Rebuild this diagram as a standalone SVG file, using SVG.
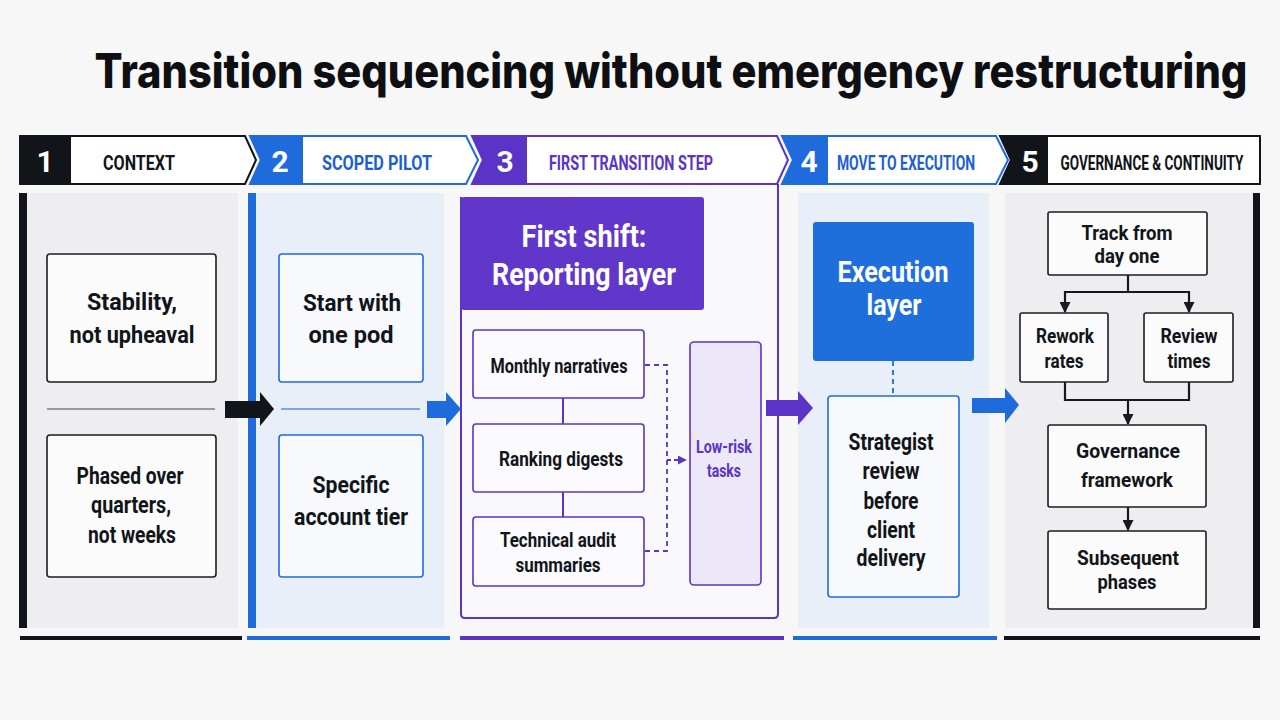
<svg xmlns="http://www.w3.org/2000/svg" width="1280" height="720" viewBox="0 0 1280 720">
<defs>
<style>
.t{font-family:Roboto,"Liberation Sans",sans-serif;font-weight:700;text-anchor:middle}
.nd{fill:#111418;font-size:24px}
.sm{fill:#111418;font-size:21px}
.hd{font-size:20px}
.num{fill:#fff;font-size:30px}
.box{fill:#fbfbfb;stroke:#1b1e22;stroke-width:1.6}
.bbox{fill:#f7f9fd;stroke:#1f6bdc;stroke-width:1.6}
.pbox{fill:#fbfaff;stroke:#5a34c6;stroke-width:1.6}
.kline{fill:none;stroke:#16191d;stroke-width:2.2}
</style>
<marker id="ak" viewBox="0 0 10 10" refX="9" refY="5" markerWidth="5" markerHeight="5" orient="auto"><path d="M0,0 L10,5 L0,10 z" fill="#16191d"/></marker>
<marker id="ap" viewBox="0 0 10 10" refX="9" refY="5" markerWidth="5" markerHeight="5" orient="auto"><path d="M0,0 L10,5 L0,10 z" fill="#5a34c6"/></marker>
</defs>
<rect width="1280" height="720" fill="#f7f7f8"/>
<g transform="translate(671,88) scale(0.8,1)">
<text x="0" y="0" font-family="Inter,Roboto,sans-serif" font-weight="800" font-size="48" fill="#0d0f12" text-anchor="middle" textLength="1441" lengthAdjust="spacingAndGlyphs">Transition sequencing without emergency restructuring</text>
</g>

<g id="phase1">
<rect x="19" y="193" width="219" height="435" fill="#eeeef0"/>
<rect x="19" y="193" width="8" height="435" fill="#111418"/>
<polygon points="20,136 245,136 256,160 245,184 20,184" fill="#fff" stroke="#111418" stroke-width="2"/>
<rect x="20" y="136" width="51" height="48" fill="#111418"/>
<text class="t num" x="45" y="172">1</text>
<g transform="translate(139,170) scale(0.72,1)"><text class="t hd" x="0" y="0" fill="#111418" textLength="100" lengthAdjust="spacingAndGlyphs">CONTEXT</text></g>
<rect x="20" y="636" width="222" height="4" fill="#111418"/>
<line x1="47" y1="409" x2="215" y2="409" stroke="#9a9a9e" stroke-width="2"/>
</g>
<g id="n-stability">
<rect class="box" x="47" y="254" width="169" height="128" rx="3"/>
<text class="t nd" x="132" y="310" textLength="90" lengthAdjust="spacingAndGlyphs">Stability,</text>
<text class="t nd" x="132" y="343" textLength="125" lengthAdjust="spacingAndGlyphs">not upheaval</text>
</g>
<g id="n-phased">
<rect class="box" x="47" y="435" width="169" height="142" rx="3"/>
<text class="t nd" x="130" y="484" textLength="107" lengthAdjust="spacingAndGlyphs">Phased over</text>
<text class="t nd" x="131" y="513" textLength="80" lengthAdjust="spacingAndGlyphs">quarters,</text>
<text class="t nd" x="132" y="543" textLength="88" lengthAdjust="spacingAndGlyphs">not weeks</text>
</g>

<g id="phase2">
<rect x="248" y="193" width="196" height="435" fill="#e9eff9"/>
<rect x="248" y="193" width="8" height="435" fill="#1f6bdc"/>
<polygon points="250,136 466,136 478,160 466,184 250,184 261,160" fill="#fff" stroke="#1f6bdc" stroke-width="2"/>
<polygon points="250,136 303,136 303,184 250,184 261,160" fill="#1f6bdc"/>
<text class="t num" x="280" y="172">2</text>
<g transform="translate(377,170) scale(0.72,1)"><text class="t hd" x="0" y="0" fill="#1d5fd3" textLength="153" lengthAdjust="spacingAndGlyphs">SCOPED PILOT</text></g>
<rect x="247" y="636" width="203" height="4" fill="#1f6bdc"/>
<line x1="281" y1="409" x2="420" y2="409" stroke="#7fa6e6" stroke-width="2"/>
</g>
<g id="n-startpod">
<rect class="bbox" x="279" y="254" width="144" height="128" rx="3"/>
<text class="t nd" x="352" y="311" textLength="98" lengthAdjust="spacingAndGlyphs">Start with</text>
<text class="t nd" x="351" y="343" textLength="85" lengthAdjust="spacingAndGlyphs">one pod</text>
</g>
<g id="n-specific">
<rect class="bbox" x="279" y="435" width="144" height="142" rx="3"/>
<text class="t nd" x="351" y="493" textLength="77" lengthAdjust="spacingAndGlyphs">Specific</text>
<text class="t nd" x="351" y="525" textLength="114" lengthAdjust="spacingAndGlyphs">account tier</text>
</g>

<g id="phase3">
<path d="M778,184 V614 Q778,618 774,618 H465 Q461,618 461,614 V197" fill="#f9f8fd" stroke="#5a34c6" stroke-width="2"/>
<polygon points="472,136 777,136 788,160 777,184 472,184 483,160" fill="#fff" stroke="#5a34c6" stroke-width="2"/>
<polygon points="472,136 527,136 527,184 472,184 483,160" fill="#5a34c6"/>
<text class="t num" x="505" y="172">3</text>
<g transform="translate(631,170) scale(0.72,1)"><text class="t hd" x="0" y="0" fill="#5a34c6" textLength="228" lengthAdjust="spacingAndGlyphs">FIRST TRANSITION STEP</text></g>
<rect x="460" y="636" width="324" height="4" fill="#5a34c6"/>
</g>
<g id="n-firstshift">
<rect x="461" y="197" width="243" height="113" rx="3" fill="#6137cb"/>
<text class="t" x="584" y="247" fill="#fff" font-size="32" textLength="125" lengthAdjust="spacingAndGlyphs">First shift:</text>
<text class="t" x="584" y="285" fill="#fff" font-size="32" textLength="184" lengthAdjust="spacingAndGlyphs">Reporting layer</text>
</g>
<g id="n-monthly">
<rect class="pbox" x="473" y="330" width="171" height="68" rx="3"/>
<text class="t sm" x="559" y="373" textLength="137" lengthAdjust="spacingAndGlyphs">Monthly narratives</text>
</g>
<g id="n-ranking">
<rect class="pbox" x="473" y="424" width="171" height="68" rx="3"/>
<text class="t sm" x="561" y="466" textLength="124" lengthAdjust="spacingAndGlyphs">Ranking digests</text>
</g>
<g id="n-technical">
<rect class="pbox" x="473" y="517" width="171" height="69" rx="3"/>
<text class="t sm" x="558" y="547" textLength="116" lengthAdjust="spacingAndGlyphs">Technical audit</text>
<text class="t sm" x="558" y="572" textLength="85" lengthAdjust="spacingAndGlyphs">summaries</text>
</g>
<g id="n-lowrisk">
<rect x="690" y="342" width="71" height="243" rx="4" fill="#ece8f8" stroke="#5a34c6" stroke-width="1.6"/>
<text class="t" x="724" y="453" fill="#5a34c6" font-size="19" textLength="56" lengthAdjust="spacingAndGlyphs">Low-risk</text>
<text class="t" x="724" y="477" fill="#5a34c6" font-size="19" textLength="34" lengthAdjust="spacingAndGlyphs">tasks</text>
</g>

<g id="phase4">
<rect x="798" y="193" width="191" height="435" fill="#e8eff9"/>
<polygon points="782,136 996,136 1008,160 996,184 782,184 793,160" fill="#fff" stroke="#1f6bdc" stroke-width="2"/>
<polygon points="782,136 828,136 828,184 782,184 793,160" fill="#1f6bdc"/>
<text class="t num" x="809" y="172">4</text>
<g transform="translate(906,170) scale(0.72,1)"><text class="t hd" x="0" y="0" fill="#1d5fd3" textLength="192" lengthAdjust="spacingAndGlyphs">MOVE TO EXECUTION</text></g>
<rect x="793" y="636" width="204" height="4" fill="#1f6bdc"/>
</g>
<g id="n-execution">
<rect x="813" y="222" width="161" height="139" rx="3" fill="#1e6fdc"/>
<text class="t" x="893" y="282" fill="#fff" font-size="30" textLength="111" lengthAdjust="spacingAndGlyphs">Execution</text>
<text class="t" x="894" y="315" fill="#fff" font-size="30" textLength="55" lengthAdjust="spacingAndGlyphs">layer</text>
</g>
<g id="n-strategist">
<rect class="bbox" x="828" y="396" width="131" height="201" rx="3"/>
<text class="t nd" x="891" y="450" textLength="85" lengthAdjust="spacingAndGlyphs">Strategist</text>
<text class="t nd" x="891" y="479" textLength="57" lengthAdjust="spacingAndGlyphs">review</text>
<text class="t nd" x="891" y="509" textLength="55" lengthAdjust="spacingAndGlyphs">before</text>
<text class="t nd" x="891" y="538" textLength="48" lengthAdjust="spacingAndGlyphs">client</text>
<text class="t nd" x="891" y="566" textLength="69" lengthAdjust="spacingAndGlyphs">delivery</text>
</g>

<g id="phase5">
<rect x="1005" y="193" width="252" height="435" fill="#eeeef0"/>
<rect x="1253" y="193" width="7" height="435" fill="#111418"/>
<polygon points="1000,136 1260,136 1260,184 1000,184 1011,160" fill="#fff" stroke="#111418" stroke-width="2"/>
<polygon points="1000,136 1048,136 1048,184 1000,184 1011,160" fill="#111418"/>
<text class="t num" x="1030" y="172">5</text>
<g transform="translate(1152,170) scale(0.72,1)"><text class="t hd" x="0" y="0" fill="#111418" textLength="254" lengthAdjust="spacingAndGlyphs">GOVERNANCE &amp; CONTINUITY</text></g>
<rect x="1004" y="636" width="256" height="4" fill="#111418"/>
</g>
<g id="n-track">
<rect class="box" x="1048" y="212" width="159" height="63" rx="2"/>
<text class="t sm" x="1127" y="240" textLength="91" lengthAdjust="spacingAndGlyphs">Track from</text>
<text class="t sm" x="1127" y="263" textLength="65" lengthAdjust="spacingAndGlyphs">day one</text>
</g>
<g id="n-rework">
<rect class="box" x="1020" y="313" width="88" height="69" rx="2"/>
<text class="t sm" x="1065" y="343" textLength="58" lengthAdjust="spacingAndGlyphs">Rework</text>
<text class="t sm" x="1064" y="368" textLength="39" lengthAdjust="spacingAndGlyphs">rates</text>
</g>
<g id="n-review">
<rect class="box" x="1144" y="313" width="89" height="69" rx="2"/>
<text class="t sm" x="1189" y="343" textLength="57" lengthAdjust="spacingAndGlyphs">Review</text>
<text class="t sm" x="1189" y="368" textLength="43" lengthAdjust="spacingAndGlyphs">times</text>
</g>
<g id="n-governance">
<rect class="box" x="1048" y="425" width="158" height="82" rx="2"/>
<text class="t sm" x="1128" y="458" textLength="104" lengthAdjust="spacingAndGlyphs">Governance</text>
<text class="t sm" x="1127" y="487" textLength="92" lengthAdjust="spacingAndGlyphs">framework</text>
</g>
<g id="n-subsequent">
<rect class="box" x="1048" y="531" width="158" height="78" rx="2"/>
<text class="t sm" x="1128" y="565" textLength="102" lengthAdjust="spacingAndGlyphs">Subsequent</text>
<text class="t sm" x="1127" y="589" textLength="59" lengthAdjust="spacingAndGlyphs">phases</text>
</g>

<g id="connectors">
<polygon points="225,401 260,401 260,392 274,409 260,426 260,418 225,418" fill="#111418"/>
<polygon points="427,401 446,401 446,392 461,409 446,426 446,418 427,418" fill="#1f6bdc"/>
<polygon points="766,400 798,400 798,391 813,408 798,425 798,416 766,416" fill="#5a34c6"/>
<polygon points="972,398 1005,398 1005,388 1019,405 1005,423 1005,413 972,413" fill="#1f6bdc"/>
<line x1="563" y1="398" x2="563" y2="424" stroke="#5a34c6" stroke-width="2"/>
<line x1="563" y1="492" x2="563" y2="517" stroke="#5a34c6" stroke-width="2"/>
<path d="M645,365 H667 V551 H645" fill="none" stroke="#5a34c6" stroke-width="1.8" stroke-dasharray="5,4"/>
<line x1="667" y1="460" x2="686" y2="460" stroke="#5a34c6" stroke-width="1.8" stroke-dasharray="4,3" marker-end="url(#ap)"/>
<line x1="893" y1="361" x2="893" y2="395" stroke="#1f6bdc" stroke-width="1.8" stroke-dasharray="5,4"/>
<line class="kline" x1="1128" y1="275" x2="1128" y2="292"/>
<path class="kline" d="M1065,292 H1189"/>
<line class="kline" x1="1065" y1="291" x2="1065" y2="312" marker-end="url(#ak)"/>
<line class="kline" x1="1189" y1="291" x2="1189" y2="312" marker-end="url(#ak)"/>
<path class="kline" d="M1065,382 V400 H1189 V382"/>
<line class="kline" x1="1128" y1="400" x2="1128" y2="424" marker-end="url(#ak)"/>
<line class="kline" x1="1128" y1="507" x2="1128" y2="530" marker-end="url(#ak)"/>
</g>
</svg>
